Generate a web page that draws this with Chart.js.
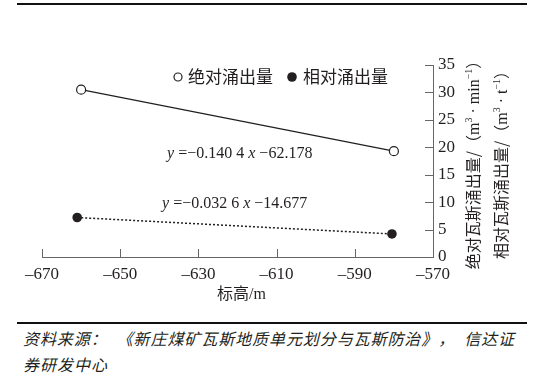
<!DOCTYPE html>
<html><head><meta charset="utf-8">
<script src="https://cdn.jsdelivr.net/npm/chart.js@4"></script>
<style>
html,body{margin:0;padding:0;background:#fff}
body{width:550px;height:387px;position:relative;overflow:hidden}
#wrap{position:absolute;left:0;top:0;width:550px;height:318px}
.rule{position:absolute;left:17px;width:510px;height:2px;background:#111}
.src{position:absolute;left:23px;font-family:"Noto Sans CJK SC";font-style:italic;font-size:16px;color:#231f20;white-space:nowrap;line-height:20px}
#l1{top:328px;width:491px;text-align:justify;text-align-last:justify;white-space:pre;text-spacing-trim:space-all}
#l2{top:354px;letter-spacing:1px}
</style></head>
<body>
<div class="rule" style="top:3px"></div>
<div id="wrap"><canvas id="c" width="550" height="318"></canvas></div>
<div class="rule" style="top:322px"></div>
<div class="src" id="l1">资料来源：  《新庄煤矿瓦斯地质单元划分与瓦斯防治》，  信达证</div>
<div class="src" id="l2">券研发中心</div>
<script>
// ---- data ----
const seriesNames = ['绝对涌出量', '相对涌出量'];
const absX = [-660, -580];
const absY = [30.5, 19.3];
const relX = [-661, -580.5];
const relY = [7.2, 4.2];
const xTicks = [-670, -650, -630, -610, -590, -570];
const yTicks = [0, 5, 10, 15, 20, 25, 30, 35];
const equations = ['−0.140 4', '−62.178', '−0.032 6', '−14.677'];
const xTitle = ['标高', '/m'];
const yTitle1 = ['绝对瓦斯涌出量/（', 'm', '3', ' · min', '−1', '）'];
const yTitle2 = ['相对瓦斯涌出量/（', 'm', '3', ' · t', '−1', '）'];

const INK = '#231f20';
const AXIS = '#666';
const SERIF = '"Liberation Serif"';
const CJK = '"Noto Sans CJK SC"';

function drawRich(ctx, segs, x, y, align) {
  let w = 0;
  for (const s of segs) { ctx.font = s.font; s.w = ctx.measureText(s.t).width; w += s.w; }
  let cx = align === 'center' ? x - w / 2 : x;
  ctx.textAlign = 'left';
  ctx.textBaseline = 'alphabetic';
  for (const s of segs) { ctx.font = s.font; ctx.fillText(s.t, cx, y + (s.dy || 0)); cx += s.w; }
}

const decor = {
  id: 'decor',
  afterDraw(chart) {
    const ctx = chart.ctx, xs = chart.scales.x, ys = chart.scales.y, ca = chart.chartArea;
    ctx.save();
    // inward ticks
    ctx.strokeStyle = AXIS; ctx.lineWidth = 1;
    ctx.beginPath();
    for (const v of xTicks) { const p = Math.round(xs.getPixelForValue(v)) + 0.5; ctx.moveTo(p, ca.bottom); ctx.lineTo(p, ca.bottom - 8); }
    for (const v of yTicks) { const p = Math.round(ys.getPixelForValue(v)) + 0.5; ctx.moveTo(ca.right, p); ctx.lineTo(ca.right - 8, p); }
    ctx.stroke();
    ctx.fillStyle = INK;
    // x title
    drawRich(ctx, [{t: xTitle[0], font: '16px ' + CJK}, {t: xTitle[1], font: '16px ' + SERIF}], (ca.left + ca.right) / 2 + 4, ca.bottom + 42, 'center');
    // y titles (rotated)
    const titles = [[yTitle1, ca.right + 40], [yTitle2, ca.right + 68]];
    for (const [tt, cxp] of titles) {
      ctx.save();
      ctx.translate(cxp, (ca.top + ca.bottom) / 2);
      ctx.rotate(-Math.PI / 2);
      drawRich(ctx, [
        {t: tt[0], font: '16px ' + CJK},
        {t: tt[1], font: '16px ' + SERIF},
        {t: tt[2], font: '10px ' + SERIF, dy: -7},
        {t: tt[3], font: '16px ' + SERIF},
        {t: tt[4], font: '10px ' + SERIF, dy: -7},
        {t: tt[5], font: '16px ' + CJK}
      ], 0, 6, 'center');
      ctx.restore();
    }
    // legend
    const ly = ca.top + 12;
    ctx.font = '17px ' + CJK; ctx.textBaseline = 'middle'; ctx.textAlign = 'left';
    const lx1 = ca.right - 255, lx2 = ca.right - 141;
    ctx.beginPath(); ctx.arc(lx1, ly, 4, 0, Math.PI * 2); ctx.fillStyle = '#fff'; ctx.fill();
    ctx.strokeStyle = INK; ctx.lineWidth = 1.2; ctx.stroke();
    ctx.beginPath(); ctx.arc(lx2, ly, 4.8, 0, Math.PI * 2); ctx.fillStyle = INK; ctx.fill();
    ctx.fillText(seriesNames[0], lx1 + 10, ly);
    ctx.fillText(seriesNames[1], lx2 + 11, ly);
    // equations
    const eqs = [[equations[0], equations[1], -638, 19.1], [equations[2], equations[3], -639.3, 10.0]];
    for (const [a, b, xv, yv] of eqs) {
      drawRich(ctx, [
        {t: 'y', font: 'italic 16px ' + SERIF},
        {t: ' =' + a + ' ', font: '16px ' + SERIF},
        {t: 'x', font: 'italic 16px ' + SERIF},
        {t: ' ' + b, font: '16px ' + SERIF}
      ], xs.getPixelForValue(xv), ys.getPixelForValue(yv) + 5.5, 'left');
    }
    ctx.restore();
  }
};

new Chart(document.getElementById('c'), {
  type: 'line',
  data: {
    datasets: [
      {
        label: seriesNames[0],
        data: absX.map((x, i) => ({x, y: absY[i]})),
        borderColor: INK, borderWidth: 1.2,
        pointRadius: 4.5, pointBackgroundColor: '#fff', pointBorderColor: INK, pointBorderWidth: 1.2,
        clip: false
      },
      {
        label: seriesNames[1],
        data: relX.map((x, i) => ({x, y: relY[i]})),
        borderColor: INK, borderWidth: 1.5, borderDash: [2, 2],
        pointRadius: 4.8, pointBackgroundColor: INK, pointBorderColor: INK, pointBorderWidth: 0,
        clip: false
      }
    ]
  },
  options: {
    responsive: false, animation: false, devicePixelRatio: 1,
    layout: {padding: {left: 42, top: 65, right: 0, bottom: 0}},
    plugins: {legend: {display: false}, tooltip: {enabled: false}},
    scales: {
      x: {
        type: 'linear', position: 'bottom', min: -670, max: -570,
        afterBuildTicks: s => { s.ticks = xTicks.map(v => ({value: v})); },
        afterFit: s => { s.height = 61; },
        grid: {display: true, drawOnChartArea: false, drawTicks: false, color: 'rgba(0,0,0,0)'},
        border: {display: true, color: AXIS, width: 1},
        ticks: {padding: 7, color: INK, font: {family: 'Liberation Serif', size: 17},
          callback: v => String(v).replace('-', '–')}
      },
      y: {
        type: 'linear', position: 'right', min: 0, max: 35,
        afterBuildTicks: s => { s.ticks = yTicks.map(v => ({value: v})); },
        afterFit: s => { s.width = 117; },
        grid: {display: true, drawOnChartArea: false, drawTicks: false, color: 'rgba(0,0,0,0)'},
        border: {display: true, color: AXIS, width: 1},
        ticks: {padding: 5, color: INK, font: {family: 'Liberation Serif', size: 17}}
      }
    }
  },
  plugins: [decor]
});
</script>
</body></html>
